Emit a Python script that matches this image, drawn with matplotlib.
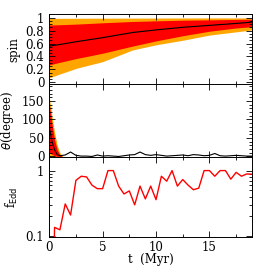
import numpy as np
import matplotlib
matplotlib.use("Agg")
import matplotlib.pyplot as plt
from matplotlib.ticker import MultipleLocator, FixedLocator, NullFormatter, FixedFormatter

plt.rcParams['font.family'] = ['DejaVu Serif']
plt.rcParams['font.size'] = 8.5

# spin evolution (median + 68% / 95% bands)
t_spin = [0, 1, 2.6, 5, 7.8, 10, 12.5, 15, 17.5, 19]
spin_med = [0.56, 0.585, 0.63, 0.69, 0.77, 0.81, 0.85, 0.88, 0.91, 0.93]
spin_red_lo = [0.27, 0.31, 0.37, 0.45, 0.56, 0.64, 0.72, 0.79, 0.84, 0.86]
spin_red_hi = [0.885, 0.89, 0.90, 0.92, 0.94, 0.95, 0.96, 0.965, 0.972, 0.975]
spin_or_lo = [0.07, 0.13, 0.22, 0.32, 0.50, 0.58, 0.65, 0.73, 0.78, 0.81]
spin_or_hi = [0.988, 0.989, 0.99, 0.991, 0.992, 0.993, 0.994, 0.995, 0.995, 0.995]

# angle evolution
t_band = [0, 0.25, 0.5, 0.75, 1.0, 1.25]
th_or_hi = [163, 110, 65, 30, 10, 0]
th_or_lo = [0, 0, 0, 0, 0, 0]
th_red_hi = [143, 90, 45, 18, 4, 0]
th_red_lo = [12, 6, 2, 0, 0, 0]

t_theta = [0, 0.25, 0.5, 0.75, 1.0, 1.5, 2.0, 2.5, 3.0, 3.5, 4.0, 4.5, 5.0, 5.5,
           6.0, 6.5, 7.0, 7.5, 8.0, 8.5, 9.0, 9.5, 10.0, 10.5, 11.0, 11.5, 12.0,
           12.5, 13.0, 13.5, 14.0, 14.5, 15.0, 15.5, 16.0, 16.5, 17.0, 17.5,
           18.0, 18.5, 19.0]
theta = [80, 42, 18, 5, 2, 4, 12, 3, 1, 1, 0, 4, 1, 2,
         1, 0, 2, 4, 5, 12, 5, 3, 5, 3, 1, 2, 3,
         4, 2, 5, 4, 2, 3, 8, 2, 1, 2, 3,
         2, 1, 1]

# Eddington ratio
t_edd = [0.45, 0.5, 1.0, 1.5, 2.0, 2.5, 3.0, 3.5, 4.0, 4.5, 5.0, 5.5, 6.0, 6.5,
         7.0, 7.5, 8.0, 8.5, 9.0, 9.5, 10.0, 10.5, 11.0, 11.5, 12.0, 12.5,
         13.0, 13.5, 14.0, 14.5, 15.0, 15.5, 16.0, 16.5, 17.0, 17.5, 18.0,
         18.5, 19.0]
f_edd = [0.05, 0.136, 0.125, 0.31, 0.21, 0.71, 0.82, 0.80, 0.60, 0.53, 0.53, 1.0, 1.0, 0.58,
         0.44, 0.49, 0.30, 0.58, 0.37, 0.58, 0.36, 0.82, 0.69, 1.0, 0.58, 0.73,
         0.60, 0.51, 0.54, 1.0, 1.0, 0.82, 1.0, 1.0, 0.74, 0.94, 0.82,
         0.89, 0.88]

fig = plt.figure(figsize=(2.66, 2.66), dpi=100)
L, W = 0.185, 0.763
ax1 = fig.add_axes([L, 0.683, W, 0.263])
ax2 = fig.add_axes([L, 0.409, W, 0.274])
ax3 = fig.add_axes([L, 0.109, W, 0.300])

orange = '#FFA500'
red = '#FF0000'

ax1.fill_between(t_spin, spin_or_lo, spin_or_hi, color=orange, lw=0)
ax1.fill_between(t_spin, spin_red_lo, spin_red_hi, color=red, lw=0)
ax1.plot(t_spin, spin_med, color='black', lw=0.8)
ax1.set_ylim(-0.03, 1.05)
ax1.set_ylabel('spin')
ax1.yaxis.set_minor_locator(MultipleLocator(0.05))
ax1.set_yticks([0, 0.2, 0.4, 0.6, 0.8, 1.0])
ax1.set_yticklabels(['0', '0.2', '0.4', '0.6', '0.8', '1'])

ax2.fill_between(t_band, th_or_lo, th_or_hi, color=orange, lw=0)
ax2.fill_between(t_band, th_red_lo, th_red_hi, color=red, lw=0)
ax2.plot(t_theta, theta, color='black', lw=0.8)
ax2.set_ylim(-2, 195)
ax2.set_ylabel(r'$\theta$(degree)')
ax2.yaxis.set_major_locator(MultipleLocator(50))
ax2.yaxis.set_minor_locator(MultipleLocator(10))

ax3.plot(t_edd, f_edd, color=red, lw=1.0)
ax3.set_yscale('log')
ax3.set_ylim(0.097, 1.6)
ax3.yaxis.set_major_locator(FixedLocator([0.1, 1]))
ax3.yaxis.set_major_formatter(FixedFormatter(['0.1', '1']))
ax3.yaxis.set_minor_locator(FixedLocator([0.2, 0.3, 0.4, 0.5, 0.6, 0.7, 0.8, 0.9]))
ax3.yaxis.set_minor_formatter(NullFormatter())
ax3.set_ylabel(r'f$_{\rm Edd}$')
ax3.set_xlabel('t  (Myr)', labelpad=-1)

for ax in (ax1, ax2, ax3):
    ax.set_xlim(0, 19)
    ax.xaxis.set_major_locator(MultipleLocator(5))
    ax.xaxis.set_minor_locator(MultipleLocator(2.5))
    ax.tick_params(which='both', direction='in', top=True, right=True, width=0.6)
    ax.tick_params(which='major', length=4)
    ax.tick_params(which='minor', length=2)
    ax.tick_params(axis='x', pad=3)
    for s in ax.spines.values():
        s.set_linewidth(0.7)
for ax in (ax1, ax2):
    ax.tick_params(labelbottom=False)

fig.savefig('out.png', dpi=100)
